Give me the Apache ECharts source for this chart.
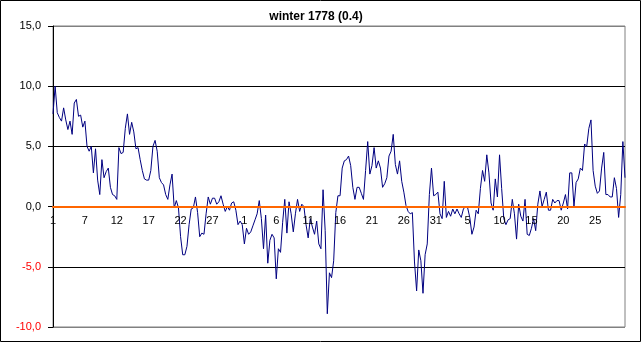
<!DOCTYPE html>
<html>
<head>
<meta charset="utf-8">
<script src="https://cdn.jsdelivr.net/npm/echarts@6/dist/echarts.min.js"></script>
<style>
html,body{margin:0;padding:0;background:#fff;}
#chart{width:641px;height:342px;}
</style>
</head>
<body>
<div id="chart"></div>
<script>
// Observations, 3 per day (index 0..89, 90..179, 180..269)
const decValues = [7.7,10.0,7.8,7.4,7.1,8.2,7.2,6.4,7.1,6.0,8.6,8.9,7.5,7.6,6.6,7.1,5.0,4.6,5.0,2.8,
  4.8,2.2,1.0,3.9,2.4,2.9,3.2,1.6,1.0,0.9,0.6,4.9,4.4,4.5,6.5,7.7,6.0,7.0,6.2,4.8,
  4.9,3.9,3.0,2.3,2.2,2.2,3.0,5.0,5.5,4.6,2.4,2.0,1.8,1.0,0.6,1.8,2.7,-0.1,0.5,-0.1,
  -2.5,-4.0,-4.0,-3.3,-1.5,-0.2,-0.1,0.8,-0.5,-2.5,-2.2,-2.3,-0.6,0.8,0.2,0.7,0.7,0.2,0.4,0.9,
  0.2,-0.4,0.0,-0.3,0.3,0.4,-0.3,-1.5,-1.2,-1.5];
const janValues = [-3.1,-1.8,-2.3,-2.1,-1.6,-1.1,-0.6,0.5,-1.0,-3.5,-0.7,-4.7,-2.8,-2.3,-2.6,-6.0,-3.5,-3.8,-1.3,0.6,
  -2.2,0.4,-0.6,-2.1,-0.6,0.6,-0.4,0.2,0.0,-1.5,-2.6,-1.0,-1.7,-2.3,-1.2,-3.1,-3.5,1.4,-2.0,-8.9,
  -5.5,-5.9,-4.5,-0.5,0.9,0.9,3.2,3.8,3.9,4.2,3.4,1.6,0.6,1.6,1.6,1.1,0.6,3.0,5.4,2.7,
  3.4,4.9,3.2,3.8,3.2,1.6,1.9,2.4,4.2,4.6,6.0,3.5,2.7,3.8,2.1,1.2,0.1,-0.4,-0.6,-0.5,
  -4.6,-7.0,-3.6,-4.5,-7.2,-4.0,-3.1,1.0,3.2,0.9];
const febValues = [1.0,1.2,-0.6,-1.0,2.1,-0.9,-0.4,-0.8,-0.2,-0.6,-0.2,-0.6,-0.9,-0.2,0.0,-0.1,-0.9,-2.3,-1.7,-0.3,
  -0.6,1.5,3.0,2.1,4.3,2.8,0.3,-0.3,2.3,0.8,4.3,1.5,-1.0,-1.5,-1.1,-1.0,0.6,-0.6,-2.7,0.2,
  -0.8,-1.2,0.6,-2.3,-2.4,-1.8,-1.0,-2.0,0.2,1.3,0.0,0.6,1.2,-0.3,-0.3,0.6,0.3,0.5,0.5,-0.3,
  0.3,1.0,-0.2,2.8,2.8,0.0,2.0,2.3,3.2,3.0,5.2,5.0,6.5,7.2,3.0,1.7,1.1,1.3,3.2,4.5,
  1.0,1.0,0.8,0.8,2.4,1.5,-0.9,1.0,5.4,2.4];
// Day labels shown every 15 observations
const tickLabels = ['1','7','12','17','22','27','1','6','11','16','21','26','31','5','10','15','20','25'];
const titleText = 'winter 1778 (0.4)';
const yMin = -10, yMax = 15, yStep = 5;

const values = decValues.concat(janValues, febValues);
const categories = values.map((v, i) => String(i));

const gridTop = 26, gridBottom = 15, chartH = 342;
const plotH = chartH - gridTop - gridBottom;
// move the category axis up to the y = 0 level
const zeroOffset = -plotH * (0 - yMin) / (yMax - yMin);

const chart = echarts.init(document.getElementById('chart'), null, {renderer: 'canvas'});
chart.setOption({
  animation: false,
  backgroundColor: '#ffffff',
  title: {
    text: titleText,
    left: 316, top: 11, padding: 0, textAlign: 'center',
    textStyle: {fontFamily: 'Liberation Sans, Arial', fontSize: 12, fontWeight: 'bold', color: '#000'}
  },
  graphic: [{
    type: 'rect', silent: true, z: 100,
    shape: {x: 0.5, y: 0.5, width: 640, height: 341},
    style: {fill: 'none', stroke: '#000', lineWidth: 1}
  }],
  grid: {left: 53, right: 16, top: gridTop, bottom: gridBottom, outerBoundsMode: 'none', containLabel: false,
    show: true, borderColor: '#808080', borderWidth: 1, backgroundColor: 'transparent'},
  xAxis: {
    type: 'category', data: categories, boundaryGap: false, z: 5,
    position: 'bottom', offset: zeroOffset,
    axisLine: {onZero: false, lineStyle: {color: '#ff6600', width: 2}},
    axisTick: {show: false},
    splitLine: {show: false},
    axisLabel: {
      interval: 14, margin: 9, hideOverlap: false,
      fontFamily: 'Liberation Sans, Arial', fontSize: 11, color: '#000',
      formatter: (v, idx) => tickLabels[Math.round(idx / 15)] || ''
    }
  },
  yAxis: {
    type: 'value', min: yMin, max: yMax, interval: yStep,
    axisLine: {show: true, lineStyle: {color: '#000', width: 1}},
    axisTick: {show: true, length: 5, lineStyle: {color: '#000'}},
    splitLine: {show: true, lineStyle: {color: ['#808080', '#000', 'transparent', '#000', '#000', '#808080'], width: 1}},
    axisLabel: {
      margin: 12, fontFamily: 'Liberation Sans, Arial', fontSize: 11,
      formatter: v => v.toFixed(1).replace('.', ','),
      color: v => (Number(v) < 0 ? '#ff0000' : '#000')
    }
  },
  series: [{
    type: 'line', data: values, showSymbol: false, symbol: 'none',
    lineStyle: {color: '#000080', width: 1}, z: 2
  }]
});
</script>
</body>
</html>
